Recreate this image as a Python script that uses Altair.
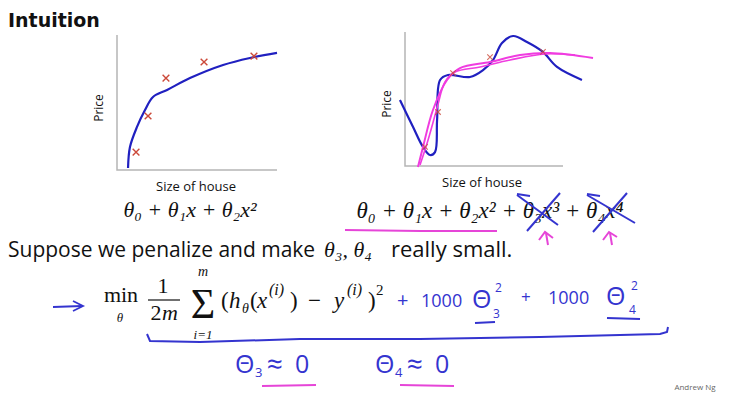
import altair as alt
import pandas as pd

# ---------------- plot 1 (data units) ----------------
p1_pts_x = [1.19, 1.94, 3.06, 5.44, 8.56]
p1_pts_y = [1.33, 4.00, 6.81, 8.00, 8.44]
p1_fit_x = [0.69, 0.81, 1.25, 1.75, 2.25, 3.13, 4.56, 6.63, 8.31, 10.0]
p1_fit_y = [0.15, 1.70, 3.19, 4.44, 5.41, 5.93, 6.81, 7.78, 8.30, 8.67]

# ---------------- plot 2 (data units) ----------------
p2_pts_x = [1.27, 2.09, 3.04, 5.38, 8.73]
p2_pts_y = [1.42, 4.03, 6.94, 8.13, 8.51]
p2_wig_x = [-0.32, 0.51, 1.14, 1.58, 1.90, 2.03, 2.22, 2.72, 4.11, 4.94, 5.57, 6.14, 6.84, 7.72, 8.73, 9.62, 11.2]
p2_wig_y = [4.93, 2.91, 1.42, 0.82, 1.04, 3.43, 6.42, 6.79, 6.64, 7.16, 7.91, 9.18, 9.70, 9.25, 8.51, 7.39, 6.42]
p2_mag1_x = [0.82, 1.14, 1.77, 2.66, 3.48, 5.38, 7.28, 9.18, 11.9]
p2_mag1_y = [-0.07, 1.42, 4.18, 6.42, 7.31, 7.76, 8.28, 8.43, 8.06]
p2_mag2_x = [0.95, 1.46, 2.03, 2.53, 3.16, 4.75, 6.65, 8.86, 10.76]
p2_mag2_y = [0.07, 1.94, 4.33, 6.27, 7.01, 7.39, 7.91, 8.36, 8.28]
axis_x = [0, 0, 10]
axis_y = [10, 0, 0]

# ---------------- page geometry ----------------
W, H, OX, OY = 717, 388, 8, 8


def xdom(px0, ppu):
    a = -(px0 - OX) / ppu
    return [a, a + W / ppu]


def ydom(py0, ppu):
    c = -(OY + H - py0) / ppu
    return [c, c + H / ppu]


P1X, P1Y = xdom(117, 16.0), ydom(170, 13.5)
P2X, P2Y = xdom(405, 15.8), ydom(166, 13.4)
PXX, PXY = [OX, OX + W], [OY, OY + H]

BLUE_PEN = "#3434cf"
MAGENTA = "#e645d8"
CURVE_BLUE = "#2020c0"
CURVE_MAG = "#f03ce0"
RED = "#cc4a3a"
AXIS_GRAY = "#b5b5b5"

XMARK = "M-1,-1L1,1M-1,1L1,-1"


def enc_xy(xd, yd, reverse=False):
    return dict(
        x=alt.X("x:Q", scale=alt.Scale(domain=xd, nice=False, zero=False), axis=None),
        y=alt.Y("y:Q", scale=alt.Scale(domain=yd, nice=False, zero=False, reverse=reverse), axis=None),
    )


def curve(xs, ys, xd, yd, color, width, interp="catmull-rom", reverse=False):
    df = pd.DataFrame({"x": xs, "y": ys, "i": list(range(len(xs)))})
    return alt.Chart(df).mark_line(color=color, strokeWidth=width, interpolate=interp).encode(
        order="i:Q", **enc_xy(xd, yd, reverse))


def points(xs, ys, xd, yd, color, size, sw, opacity=1.0):
    df = pd.DataFrame({"x": xs, "y": ys})
    return alt.Chart(df).mark_point(shape=XMARK, size=size, color=color, strokeWidth=sw,
                                    filled=False, opacity=opacity).encode(**enc_xy(xd, yd))


# ---------------- text layout (pixel positions) ----------------
def text_layer(items, **mark):
    df = pd.DataFrame(items, columns=["t", "x", "y", "s", "c"])
    return alt.Chart(df).mark_text(baseline="alphabetic", **mark).encode(
        text="t:N", size=alt.Size("s:Q", scale=None), color=alt.Color("c:N", scale=None),
        **enc_xy(PXX, PXY, reverse=True))


K = "#111111"
title_bold = [("Intuition", 8, 27, 19, K)]
sans_left = [("Suppose we penalize and make", 8, 257, 21, K),
             ("really small.", 391, 257, 22, K)]
sans_center = [("Size of house", 196, 191, 13, K), ("Size of house", 482, 187, 13, K),
               ("Andrew Ng", 695, 390, 8, "#666666")]
price_labels = [("Price", 103, 108, 12, K), ("Price", 391, 104, 12, K)]
serif_it_center = [("θ₀ + θ₁x + θ₂x²", 190, 217, 22, K),
                   ("θ₀ + θ₁x + θ₂x² + θ₃x³ + θ₄x⁴", 490, 218, 23, K),
                   ("θ", 120, 322, 13, K), ("m", 203, 276, 14, K), ("i=1", 203, 339, 13, K),
                   ("m", 170, 320, 22, K)]
serif_it_left = [("θ₃, θ₄", 324, 257, 22, K),
                 ("h", 229, 308, 23, K), ("θ", 242, 313, 14, K), ("x", 257, 308, 23, K),
                 ("(i)", 269, 295, 16, K), ("y", 334, 308, 23, K), ("(i)", 347, 295, 16, K)]
serif_up_center = [("min", 121, 302, 22, K), ("1", 163, 293, 22, K), ("2", 156, 320, 22, K),
                   ("Σ", 203, 318, 42, K)]
serif_up_left = [("(", 221, 308, 23, K), ("(", 250, 308, 23, K), (")", 290, 308, 23, K),
                 ("−", 308, 308, 23, K), (")", 368, 308, 23, K), ("2", 376, 295, 15, K)]
pen_left = [("+", 397, 307, 20, BLUE_PEN), ("1000", 421, 307, 18, BLUE_PEN),
            ("Θ", 472, 308, 25, BLUE_PEN), ("3", 493, 318, 12, BLUE_PEN), ("2", 495, 292, 12, BLUE_PEN),
            ("+", 521, 303, 17, BLUE_PEN), ("1000", 548, 304, 18, BLUE_PEN),
            ("Θ", 606, 305, 25, BLUE_PEN), ("4", 629, 314, 12, BLUE_PEN), ("2", 631, 290, 12, BLUE_PEN),
            ("Θ", 235, 373, 25, BLUE_PEN), ("3", 255, 377, 13, BLUE_PEN),
            ("≈", 267, 374, 28, BLUE_PEN), ("0", 295, 373, 25, BLUE_PEN),
            ("Θ", 375, 373, 25, BLUE_PEN), ("4", 395, 377, 13, BLUE_PEN),
            ("≈", 407, 374, 28, BLUE_PEN), ("0", 435, 373, 25, BLUE_PEN)]

# ---------------- hand-drawn strokes (pixel positions) ----------------
strokes = [
    # blue pen
    ([53, 82], [307, 306], BLUE_PEN, 1.8),
    ([73, 83, 73], [301, 306, 311], BLUE_PEN, 1.8),
    ([147, 150, 200, 300, 420, 540, 660, 667, 668], [334, 341, 342, 339, 339, 337, 334, 332, 327], BLUE_PEN, 2.0),
    ([475, 495], [323, 322], BLUE_PEN, 2.2),
    ([607, 640], [318, 319], BLUE_PEN, 2.2),
    ([517, 558], [195, 225], BLUE_PEN, 2.0),
    ([527, 560], [231, 193], BLUE_PEN, 2.0),
    ([517, 530], [194, 196], BLUE_PEN, 2.0),
    ([587, 635], [195, 223], BLUE_PEN, 2.0),
    ([593, 627], [232, 193], BLUE_PEN, 2.0),
    ([587, 600], [194, 196], BLUE_PEN, 2.0),
    # magenta pen
    ([345, 420, 497], [230, 231, 231], MAGENTA, 2.0),
    ([539, 545, 553], [240, 232, 238], MAGENTA, 2.0),
    ([546, 548], [233, 245], MAGENTA, 2.0),
    ([603, 609, 617], [240, 232, 237], MAGENTA, 2.0),
    ([610, 612], [233, 245], MAGENTA, 2.0),
    ([262, 316], [386, 385], MAGENTA, 2.0),
    ([400, 454], [385, 386], MAGENTA, 2.0),
    ([148, 180], [300, 300], K, 1.2),  # fraction bar
]

stroke_layers = [curve(sx, sy, PXX, PXY, c, w, interp="linear", reverse=True)
                 for sx, sy, c, w in strokes]

SANS = "Open Sans"
SERIF = "Liberation Serif"

layers = [
    # plot 1
    curve(axis_x, axis_y, P1X, P1Y, AXIS_GRAY, 1.5, interp="linear"),
    curve(p1_fit_x, p1_fit_y, P1X, P1Y, CURVE_BLUE, 2.2),
    points(p1_pts_x, p1_pts_y, P1X, P1Y, RED, 45, 1.4),
    # plot 2
    curve(axis_x, axis_y, P2X, P2Y, AXIS_GRAY, 1.5, interp="linear"),
    curve(p2_wig_x, p2_wig_y, P2X, P2Y, CURVE_BLUE, 2.2),
    curve(p2_mag1_x, p2_mag1_y, P2X, P2Y, CURVE_MAG, 2.0),
    curve(p2_mag2_x, p2_mag2_y, P2X, P2Y, CURVE_MAG, 1.6),
    points(p2_pts_x, p2_pts_y, P2X, P2Y, RED, 30, 1.1, opacity=0.8),
    # texts
    text_layer(title_bold, font="DejaVu Sans", fontWeight="bold", align="left"),
    text_layer(sans_left, font=SANS, align="left"),
    text_layer(sans_center, font=SANS, align="center"),
    text_layer(price_labels, font=SANS, align="center", angle=270),
    text_layer(serif_it_center, font=SERIF, fontStyle="italic", align="center"),
    text_layer(serif_it_left, font=SERIF, fontStyle="italic", align="left"),
    text_layer(serif_up_center, font=SERIF, align="center"),
    text_layer(serif_up_left, font=SERIF, align="left"),
    text_layer(pen_left, font=SANS, align="left"),
] + stroke_layers

chart = alt.layer(*layers).resolve_scale(x="independent", y="independent").properties(
    width=W, height=H, padding=0, autosize=alt.AutoSizeParams(type="none"),
    background="white"
).configure_view(stroke=None)

chart.save("out.html", embed_options={"renderer": "svg", "actions": False})
